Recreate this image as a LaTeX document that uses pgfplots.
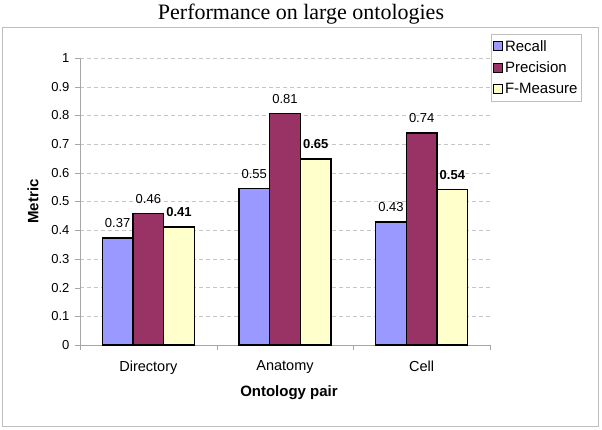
\documentclass[border=0pt]{standalone}
\usepackage{pgfplots}
\pgfplotsset{compat=1.18}
\usepackage{fontspec}
\setmainfont{Liberation Sans}
\newfontfamily\titlefont{Liberation Serif}
\definecolor{recall}{RGB}{153,153,255}
\definecolor{prec}{RGB}{153,51,102}
\definecolor{fmeas}{RGB}{255,255,204}
\definecolor{framegray}{RGB}{190,190,190}
\begin{document}
\begin{tikzpicture}[x=1pt,y=1pt]
\useasboundingbox (-80,-84) rectangle (522,345);
\draw[framegray, line width=1pt] (-77,-81) rectangle (518,317);
\node[font=\titlefont\fontsize{22}{25}\selectfont] at (221,331) {Performance on large ontologies};
\begin{axis}[
  at={(0pt,0pt)}, anchor=south west,
  scale only axis, width=410pt, height=287pt,
  ybar=0pt, bar width=30.7pt,
  xmin=-0.5, xmax=2.5, ymin=0, ymax=1,
  xtick={0,1,2}, xticklabels={Directory,Anatomy,Cell},
  minor xtick={-0.5,0.5,1.5,2.5},
  major x tick style={draw=none},
  minor x tick style={gray!70},
  minor tick length=5pt,
  ytick={0,0.1,...,1.01},
  yticklabel style={/pgf/number format/fixed, /pgf/number format/precision=1, font=\fontsize{13}{15}\selectfont, xshift=-2pt},
  y tick style={gray!70}, major tick length=5pt,
  tick align=outside,
  xtick pos=bottom, ytick pos=left,
  axis x line*=bottom, axis y line*=left,
  axis line style={gray!70, -},
  ymajorgrids, grid style={gray!45, dashed, dash pattern=on 4pt off 3pt},
  /pgf/number format/assume math mode=true,
  xticklabel style={font=\fontsize{14.5}{16}\selectfont, yshift=-7pt},
  ylabel={\textbf{Metric}}, xlabel={\textbf{Ontology pair}},
  label style={font=\fontsize{15}{17}\selectfont},
  every axis y label/.append style={at={(-47pt,143.5pt)}, anchor=center},
  every axis x label/.append style={at={(209pt,-48pt)}, anchor=center},
  nodes near coords={\pgfmathprintnumber[fixed,precision=2]{\pgfplotspointmeta}},
  every node near coord/.append style={font=\fontsize{13}{15}\selectfont, yshift=6pt},
  legend style={at={(1,1)}, anchor=north west, xshift=1pt, yshift=24pt,
    draw=framegray, font=\fontsize{15}{17}\selectfont, row sep=5pt,
    inner xsep=2pt, inner ysep=4pt},
  legend cell align=left,
  legend image code/.code={\draw[#1, line width=0.8pt, draw=black] (0pt,-4.5pt) rectangle (9pt,4.5pt);},
  clip=false,
]
\addplot[fill=recall, draw=black, line width=1.5pt] coordinates {(0,0.373) (1,0.545) (2,0.428)};
\addplot[fill=prec, draw=black, line width=1.5pt] coordinates {(0,0.458) (1,0.806) (2,0.738)};
\addplot[fill=fmeas, draw=black, line width=1.5pt, every node near coord/.append style={font=\fontsize{13}{15}\selectfont\bfseries}] coordinates {(0,0.412) (1,0.648) (2,0.541)};
\legend{Recall,Precision,F-Measure}
\end{axis}
\end{tikzpicture}
\end{document}
